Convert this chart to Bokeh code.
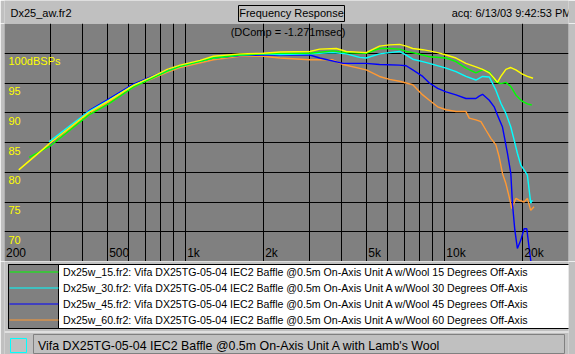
from bokeh.plotting import figure
from bokeh.layouts import column
from bokeh.models import Label, BoxAnnotation, FixedTicker, Grid, Range1d
from bokeh.embed import file_html
from bokeh.resources import INLINE

# ---------------- data ----------------
x_grid_hz = [200, 300, 400, 500, 600, 700, 800, 900, 1000, 2000, 3000, 4000,
             5000, 6000, 7000, 8000, 9000, 10000, 20000]
x_tick_hz = [200, 500, 1000, 2000, 5000, 10000, 20000]
x_tick_labels = ["200", "500", "1k", "2k", "5k", "10k", "20k"]
y_grid_db = [70, 75, 80, 85, 90, 95, 100]
y_tick_labels = ["70", "75", "80", "85", "90", "95", "100dBSPs"]

on_axis_hz = [227, 300, 422, 504, 628, 730, 849, 951, 1137, 1279, 1620, 1991,
              2311, 3013, 3290, 3815, 4169, 4970, 5598, 6117, 6683, 7093, 7520,
              8215, 8716, 9383, 10110, 11040, 12060, 13180, 13980, 14840, 15500,
              15960, 16450, 17200, 17970, 18790, 19920, 20820, 21890]
on_axis_db = [80.4, 84.9, 90.0, 92.0, 94.6, 95.9, 97.3, 98.0, 98.8, 99.5, 99.9, 100.0,
              100.2, 100.3, 100.7, 100.8, 100.3, 100.1, 101.2, 101.4, 101.5, 101.2, 100.8,
              100.6, 100.4, 100.1, 99.7, 99.2, 98.3, 97.7, 97.3, 96.7, 95.8,
              95.1, 96.1, 97.3, 97.6, 97.2, 96.5, 96.1, 95.8]

deg15_hz = [249, 300, 422, 504, 628, 849, 951, 1279, 1620, 1991, 2311, 3013, 3700,
            4169, 4970, 5598, 6117, 6683, 7093, 7520, 8215, 8716, 10110, 11040,
            12060, 13180, 13980, 14840, 15740, 16450, 17200, 17970, 18790, 19920,
            20820, 21640]
deg15_db = [82.5, 84.4, 89.6, 91.5, 94.3, 97.0, 97.8, 99.2, 99.7, 99.9, 100.0, 100.0, 100.4,
            100.1, 100.0, 100.8, 100.8, 100.7, 100.3, 100.1, 99.7, 99.4, 99.2, 98.6,
            97.5, 96.7, 97.2, 96.9, 95.2, 94.9, 95.1, 94.4, 93.0, 91.9,
            91.5, 91.3]

deg30_hz = [297, 422, 504, 628, 849, 951, 1279, 1620, 1991, 2311, 3013, 3700, 4169,
            4690, 4970, 5598, 6117, 6683, 7093, 7520, 8215, 8716, 10110, 11040, 12060,
            13180, 13980, 14840, 15740, 16450, 17200, 17970, 18510, 19050, 19640,
            20220, 20820, 21450, 21760]
deg30_db = [85.1, 90.2, 92.1, 94.6, 97.0, 97.8, 99.2, 99.7, 99.9, 99.8, 99.9, 100.1, 99.9,
            99.3, 99.2, 99.9, 100.1, 100.3, 99.7, 99.0, 98.6, 98.3, 97.5, 96.9, 96.1,
            95.5, 96.1, 96.0, 93.8, 91.6, 89.9, 87.6, 85.4, 83.2, 81.2,
            80.4, 79.5, 74.8, 75.3]

deg45_hz = [297, 422, 504, 628, 849, 951, 1279, 1620, 1991, 2311, 3013, 3290, 4050,
            4970, 5598, 6683, 7093, 7520, 8215, 8716, 9383, 10110, 11040, 12060,
            13180, 13570, 13980, 14840, 15500, 15960, 16690, 17440, 17970, 18230,
            18620, 19050, 19640, 20220, 20710, 21130, 21450, 21890]
deg45_db = [84.6, 90.3, 92.3, 94.8, 97.2, 97.9, 99.2, 99.6, 99.7, 99.7, 99.7, 99.2, 98.3,
            98.3, 98.1, 98.0, 97.9, 97.2, 96.1, 95.0, 94.1, 93.5, 93.0, 92.4,
            92.4, 92.8, 93.1, 92.1, 91.0, 89.6, 87.6, 83.2, 79.8, 74.8,
            70.3, 67.2, 68.6, 70.5, 70.5, 67.4, 65.2, 63.5]

deg60_hz = [297, 422, 504, 628, 849, 951, 1279, 1620, 1991, 2311, 3013, 3700, 4050,
            4970, 5598, 6117, 6683, 7093, 7520, 8215, 8716, 9383, 10110, 11040,
            12060, 12420, 13180, 13780, 14400, 15060, 15740, 16200, 16690, 17200,
            17700, 18130, 18790, 19340, 20220, 20820, 21450, 22090]
deg60_db = [84.5, 89.7, 91.8, 94.4, 96.8, 97.6, 98.9, 99.5, 99.5, 99.2, 98.9, 98.9, 98.1,
            97.2, 96.1, 95.6, 95.3, 95.0, 94.7, 93.0, 92.1, 91.0, 90.5, 90.2,
            90.2, 89.1, 88.8, 88.5, 87.1, 85.7, 84.6, 82.6, 79.8, 78.1,
            75.9, 73.9, 75.6, 75.3, 75.0, 75.6, 73.6, 74.2]

legend_labels = [
    "Dx25w_15.fr2:  Vifa DX25TG-05-04 IEC2 Baffle @0.5m On-Axis Unit A w/Wool 15 Degrees Off-Axis",
    "Dx25w_30.fr2:  Vifa DX25TG-05-04 IEC2 Baffle @0.5m On-Axis Unit A w/Wool 30 Degrees Off-Axis",
    "Dx25w_45.fr2:  Vifa DX25TG-05-04 IEC2 Baffle @0.5m On-Axis Unit A w/Wool 45 Degrees Off-Axis",
    "Dx25w_60.fr2:  Vifa DX25TG-05-04 IEC2 Baffle @0.5m On-Axis Unit A w/Wool 60 Degrees Off-Axis",
]
file_name = "Dx25_aw.fr2"
chart_title = "Frequency Response"
acq_text = "acq: 6/13/03 9:42:53 PM"
dcomp_text = "(DComp = -1.271msec)"
status_text = "Vifa DX25TG-05-04 IEC2 Baffle @0.5m On-Axis Unit A with Lamb's Wool"

# ---------------- style / layout ----------------
W = 575
HEAD_H, PLOT_H, FOOT_H = 23, 238, 93
FL, FR = 4, 568
FONT = "'Liberation Sans', Arial, sans-serif"
FS = "11px"
WIN_BG = "#c0c0c0"
PLOT_BG = "#808080"
C_ON, C15, C30, C45, C60 = "#ffff00", "#00ff00", "#00ffff", "#0000ff", "#ff9933"
LW = 1.4


def strip_grids(f):
    f.center = [r for r in f.center if not isinstance(r, Grid)]


def make_panel(h):
    f = figure(width=W, height=h, x_range=Range1d(0, W), y_range=Range1d(0, h),
               x_axis_location=None, y_axis_location=None,
               output_backend="svg", toolbar_location=None,
               min_border_left=0, min_border_right=0, min_border_top=0, min_border_bottom=0)
    f.background_fill_color = WIN_BG
    f.border_fill_color = WIN_BG
    f.outline_line_color = None
    strip_grids(f)
    return f


def label(f, top, h, cx, cy, text, align="left", color="black", size=FS):
    f.add_layout(Label(x=cx, y=top + h - cy, x_units="screen", y_units="screen",
                       text=text, text_align=align, text_baseline="middle",
                       text_font=FONT, text_font_size=size, text_color=color))


def box(f, top, h, l, t, r, b, fill=None, line=None, lw=1):
    f.add_layout(BoxAnnotation(left=l, right=r, top=top + h - t, bottom=top + h - b,
                               left_units="screen", right_units="screen",
                               top_units="screen", bottom_units="screen",
                               fill_color=fill if fill else "white", fill_alpha=1 if fill else 0,
                               line_color=line if line else "black", line_alpha=1 if line else 0,
                               line_width=lw))


# ---------- header ----------
head = make_panel(HEAD_H)
label(head, 0, HEAD_H, 6, 12, file_name)
box(head, 0, HEAD_H, 234, 5, 340, 21, line="black")
label(head, 0, HEAD_H, 287, 12.5, chart_title, align="center")
label(head, 0, HEAD_H, 567, 12, acq_text, align="right")

# ---------- main plot ----------
p = figure(width=W, height=PLOT_H, x_axis_type="log",
           x_range=Range1d(200, 30000), y_range=Range1d(65, 105),
           x_axis_location=None, y_axis_location=None,
           output_backend="svg", toolbar_location=None,
           min_border_left=FL, min_border_right=W - FR,
           min_border_top=0, min_border_bottom=0)
p.background_fill_color = PLOT_BG
p.border_fill_color = WIN_BG
p.outline_line_color = None
strip_grids(p)
p.add_layout(Grid(dimension=0, ticker=FixedTicker(ticks=x_grid_hz),
                  grid_line_color="black", grid_line_width=1, grid_line_alpha=1))
p.add_layout(Grid(dimension=1, ticker=FixedTicker(ticks=y_grid_db),
                  grid_line_color="black", grid_line_width=1, grid_line_alpha=1))

for hz, lab in zip(x_tick_hz, x_tick_labels):
    p.add_layout(Label(x=hz, y=p.y_range.start, x_offset=1.5, y_offset=9,
                       text=lab, text_align="left", text_baseline="middle",
                       text_font=FONT, text_font_size="12px", text_color="black"))
for db, lab in zip(y_grid_db, y_tick_labels):
    p.add_layout(Label(x=p.x_range.start, y=db, x_offset=4, y_offset=-8,
                       text=lab, text_align="left", text_baseline="middle",
                       text_font=FONT, text_font_size="11px", text_color="#ffff00"))
p.add_layout(Label(x=287.5 - FL, y=PLOT_H - 8.5, x_units="screen", y_units="screen",
                   text=dcomp_text, text_align="center", text_baseline="middle",
                   text_font=FONT, text_font_size=FS, text_color="black"))

r60 = p.line(deg60_hz, deg60_db, line_color=C60, line_width=LW)
r45 = p.line(deg45_hz, deg45_db, line_color=C45, line_width=LW)
r30 = p.line(deg30_hz, deg30_db, line_color=C30, line_width=LW)
r15 = p.line(deg15_hz, deg15_db, line_color=C15, line_width=LW)
r0 = p.line(on_axis_hz, on_axis_db, line_color=C_ON, line_width=LW)

# ---------- legend + status bar ----------
FT0 = HEAD_H + PLOT_H
foot = make_panel(FOOT_H)
box(foot, FT0, FOOT_H, 4, 264, 568, 328, fill="white", line="black")
box(foot, FT0, FOOT_H, 4, 264, 54, 328, fill=PLOT_BG, line="black")
for i, (txt, col) in enumerate(zip(legend_labels, [C15, C30, C45, C60])):
    cy = 272 + 16 * i
    box(foot, FT0, FOOT_H, 5, cy - 1, 54, cy, fill=col)
    label(foot, FT0, FOOT_H, 58.5, cy - 0.5, txt, size="10.6px")

box(foot, FT0, FOOT_H, 0, 331, W, 332, fill="#ffffff")
box(foot, FT0, FOOT_H, 6, 338, 22, 352, fill=WIN_BG, line="#00ffff")
box(foot, FT0, FOOT_H, 29, 334, 560, 353, line="#808080")
label(foot, FT0, FOOT_H, 33.5, 345, status_text, size="12.4px")

layout = column(head, p, foot, spacing=0)
open("out.html", "w").write(file_html(layout, INLINE))
